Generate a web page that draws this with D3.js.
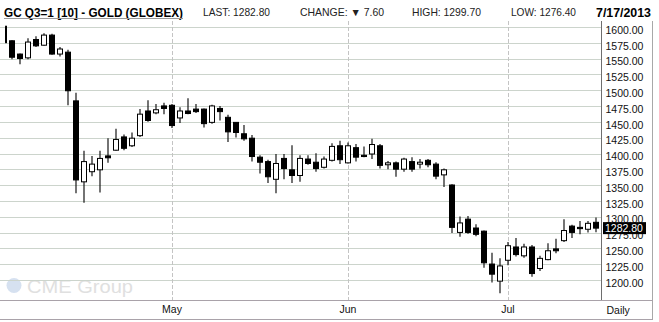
<!DOCTYPE html>
<html><head><meta charset="utf-8">
<script src="https://cdn.jsdelivr.net/npm/d3@7"></script>
<style>
body{margin:0;background:#fff;}
svg{display:block;font-family:"Liberation Sans",Arial,sans-serif;}
</style>
</head><body><svg id="c" width="659" height="322"></svg>
<script>
// ---------- data ----------
const dates = [
 "2013-04-02","2013-04-03","2013-04-04","2013-04-05","2013-04-08","2013-04-09","2013-04-10","2013-04-11","2013-04-12",
 "2013-04-15","2013-04-16","2013-04-17","2013-04-18","2013-04-19","2013-04-22","2013-04-23","2013-04-24","2013-04-25",
 "2013-04-26","2013-04-29","2013-04-30",
 "2013-05-01","2013-05-02","2013-05-03","2013-05-06","2013-05-07","2013-05-08","2013-05-09","2013-05-10","2013-05-13",
 "2013-05-14","2013-05-15","2013-05-16","2013-05-17","2013-05-20","2013-05-21","2013-05-22","2013-05-23","2013-05-24",
 "2013-05-28","2013-05-29","2013-05-30","2013-05-31",
 "2013-06-03","2013-06-04","2013-06-05","2013-06-06","2013-06-07","2013-06-10","2013-06-11","2013-06-12","2013-06-13",
 "2013-06-14","2013-06-17","2013-06-18","2013-06-19","2013-06-20","2013-06-21","2013-06-24","2013-06-25","2013-06-26",
 "2013-06-27","2013-06-28",
 "2013-07-01","2013-07-02","2013-07-03","2013-07-05","2013-07-08","2013-07-09","2013-07-10","2013-07-11","2013-07-12",
 "2013-07-15","2013-07-16","2013-07-17"];
const openV  = [1602,1579,1558,1552,1581,1572,1588,1558,1561,1484,1356,1372,1375,1397,1406,1427,1413,1429,1468,1465,1476,
                1477,1457,1468,1471,1471,1450,1472,1458,1450,1432,1425,1395,1388,1360,1393,1375,1366,1392,1387,1379,1390,1413,
                1386,1410,1398,1400,1413,1383,1386,1376,1388,1384,1390,1384,1367,1351,1276,1297,1283,1278,1226,1199,
                1232,1253,1239,1253,1219,1233,1250,1263,1286,1284,1281,1292];
const highV  = [1603,1580,1559,1583,1586,1591,1590,1569,1565,1497,1405,1397,1405,1425,1440,1431,1434,1471,1485,1479,1481,
                1479,1474,1488,1479,1472,1478,1476,1462,1450,1446,1430,1398,1391,1400,1400,1414,1398,1398,1401,1396,1417,1421,
                1418,1416,1412,1424,1416,1389,1388,1394,1395,1392,1392,1387,1377,1352,1301,1302,1289,1279,1244,1235,
                1261,1267,1258,1256,1239,1259,1266,1297,1288,1294,1294,1299.7];
const lowV   = [1575,1550,1542,1550,1569,1571,1557,1554,1477,1338,1323,1365,1339,1386,1405,1406,1411,1427,1451,1463,1463,
                1441,1449,1463,1465,1442,1448,1453,1419,1426,1421,1388,1369,1354,1338,1360,1354,1356,1383,1372,1377,1388,1384,
                1385,1388,1395,1392,1377,1376,1364,1372,1372,1377,1379,1360,1348,1275,1269,1274,1270,1220,1197,1180,
                1224,1238,1236,1206,1215,1232,1243,1261,1267,1273,1276,1276.4];
const closeV = [1576,1553,1551,1577,1571,1588,1558,1566,1500,1359,1388,1384,1393,1394,1423,1409,1425,1463,1453,1470,1472,
                1445,1468,1464,1467,1448,1476,1467,1435,1434,1424,1396,1387,1364,1385,1377,1366,1393,1385,1377,1392,1412,1391,
                1413,1395,1396,1415,1382,1386,1376,1392,1376,1387,1383,1365,1375,1284,1291,1276,1273,1228,1210,1223,
                1255,1241,1253,1211,1235,1247,1247,1279,1276,1282,1290.4,1282.8];
const yTickValues = [1200,1225,1250,1275,1300,1325,1350,1375,1400,1425,1450,1475,1500,1525,1550,1575,1600];
const monthTickDates = ["2013-05-01","2013-06-03","2013-07-01"];
const monthTickLabels = ["May","Jun","Jul"];
const titleText = "GC Q3=1 [10] - GOLD (GLOBEX)";
const lastText = "LAST: 1282.80";
const changeText = "CHANGE: \u25BC 7.60";
const highText = "HIGH: 1299.70";
const lowText = "LOW: 1276.40";
const dateText = "7/17/2013";
const lastPrice = 1282.80;
const periodLabel = "Daily";
const watermark = "CME Group";

// ---------- layout ----------
const svg = d3.select("#c");
const plot = {left:5, top:21, right:601.5, bottom:300.5};
const x = d3.scaleBand().domain(dates).range([0,600]).paddingInner(0.25).paddingOuter(0.125);
const y = d3.scaleLinear().domain([1200,1600]).range([280.5,27.5]);
const cx = d => x(d) + x.bandwidth()/2;
const crisp = v => Math.round(v - 0.5) + 0.5;

// watermark
const wm = svg.append("g");
wm.append("circle").attr("cx",14).attr("cy",285.5).attr("r",7.5).attr("fill","#d6e1f0");
wm.append("text").attr("x",27).attr("y",292.5).attr("font-size",19).attr("fill","#e0e0e0")
  .attr("textLength",106).attr("lengthAdjust","spacingAndGlyphs").text(watermark);

// horizontal grid
svg.append("g").selectAll("line").data(yTickValues).join("line")
  .attr("x1",0).attr("x2",plot.right).attr("y1",d=>crisp(y(d))).attr("y2",d=>crisp(y(d)))
  .attr("stroke","#ccd4cc").attr("stroke-width",1);

// vertical grid
svg.append("g").selectAll("line").data(monthTickDates).join("line")
  .attr("x1",d=>crisp(cx(d))).attr("x2",d=>crisp(cx(d)))
  .attr("y1",plot.top).attr("y2",plot.bottom)
  .attr("stroke","#c4c4c4").attr("stroke-dasharray","4,2");

// candles
svg.append("defs").append("clipPath").attr("id","clip").append("rect")
  .attr("x",plot.left).attr("y",plot.top).attr("width",plot.right-plot.left).attr("height",plot.bottom-plot.top);
const cg = svg.append("g").attr("clip-path","url(#clip)");
const idx = d3.range(dates.length);
cg.selectAll("line.wick").data(idx).join("line").attr("class","wick")
  .attr("x1",i=>cx(dates[i])).attr("x2",i=>cx(dates[i]))
  .attr("y1",i=>y(highV[i])).attr("y2",i=>y(lowV[i]))
  .attr("stroke","#000").attr("stroke-width",1.1);
cg.selectAll("rect.body").data(idx).join("rect").attr("class","body")
  .attr("x",i=>cx(dates[i])-2.5).attr("width",5)
  .attr("y",i=>Math.min(y(openV[i]),y(closeV[i])))
  .attr("height",i=>Math.max(1,Math.abs(y(openV[i])-y(closeV[i]))))
  .attr("fill",i=>closeV[i]>=openV[i]?"#fff":"#000")
  .attr("stroke","#000").attr("stroke-width",1);

// frame lines
svg.append("line").attr("x1",plot.right).attr("x2",plot.right).attr("y1",plot.top).attr("y2",plot.bottom)
  .attr("stroke","#6e6e6e");
svg.append("line").attr("x1",652.5).attr("x2",652.5).attr("y1",plot.top).attr("y2",320)
  .attr("stroke","#a8a8a8");
svg.append("line").attr("x1",0).attr("x2",653).attr("y1",plot.bottom).attr("y2",plot.bottom)
  .attr("stroke","#a9a2a9");
svg.append("line").attr("x1",0).attr("x2",653).attr("y1",319.5).attr("y2",319.5)
  .attr("stroke","#a9a2a9");

// y axis labels
const yAxis = d3.axisRight(y).tickValues(yTickValues).tickFormat(d3.format(".2f")).tickSize(0).tickPadding(0);
const ya = svg.append("g").attr("transform",`translate(605.5,2)`).call(yAxis);
ya.select(".domain").remove();
ya.selectAll("text").attr("font-size",10.5).attr("font-family","Liberation Sans, Arial, sans-serif").attr("fill","#111").attr("dy","0.35em");

// last price box
const ly = y(lastPrice);
svg.append("rect").attr("x",603).attr("y",ly-6).attr("width",43).attr("height",12).attr("fill","#000");
svg.append("text").attr("x",605).attr("y",ly+4).attr("font-size",10.5).attr("fill","#fff").text(d3.format(".2f")(lastPrice));

// x axis labels
const xa = d3.axisBottom(x).tickValues(monthTickDates).tickFormat((d,i)=>monthTickLabels[i]).tickSize(0).tickPadding(0);
const xg = svg.append("g").attr("transform","translate(0,306)").call(xa);
xg.select(".domain").remove();
xg.selectAll("text").attr("font-size",10.5).attr("font-family","Liberation Sans, Arial, sans-serif").attr("fill","#111");
svg.append("text").attr("x",606.5).attr("y",314).attr("font-size",10.5).attr("fill","#111").text(periodLabel);

// header
svg.append("text").attr("x",4).attr("y",16.5).attr("font-size",12.5).attr("font-weight","bold").attr("fill","#000")
  .attr("textLength",179).attr("lengthAdjust","spacingAndGlyphs").text(titleText);
svg.append("line").attr("x1",4).attr("x2",183).attr("y1",18.5).attr("y2",18.5).attr("stroke","#999");
const hdr = [[lastText,203,67],[changeText,300,84],[highText,412,69],[lowText,511,65]];
svg.append("g").selectAll("text").data(hdr).join("text")
  .attr("x",d=>d[1]).attr("y",16).attr("font-size",10.5).attr("fill","#222")
  .attr("textLength",d=>d[2]).attr("lengthAdjust","spacingAndGlyphs").text(d=>d[0]);
svg.append("text").attr("x",596).attr("y",16.5).attr("font-size",12.5).attr("font-weight","bold").attr("fill","#000")
  .attr("textLength",55).attr("lengthAdjust","spacingAndGlyphs").text(dateText);
</script></body></html>
